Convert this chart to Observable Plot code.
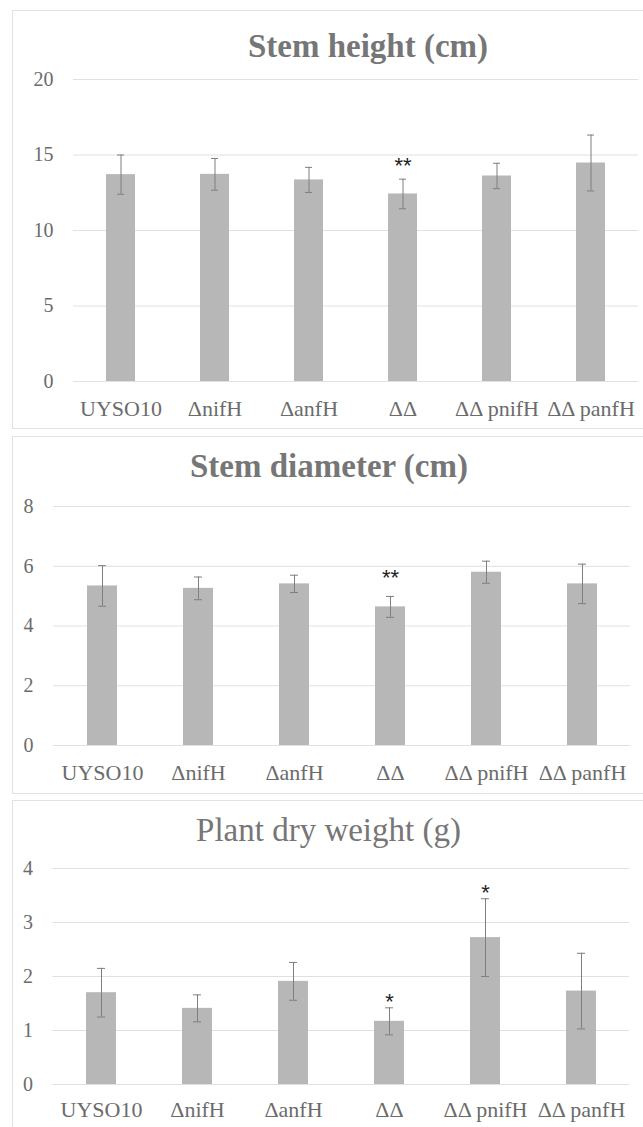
<!DOCTYPE html>
<html><head><meta charset="utf-8">
<script src="https://cdn.jsdelivr.net/npm/d3@7"></script>
<script src="https://cdn.jsdelivr.net/npm/@observablehq/plot@0.6"></script>
<style>
html,body{margin:0;padding:0;background:#fff;overflow:hidden}
body{width:643px;height:1127px;position:relative;font-family:"Liberation Serif",serif}
.frame{position:absolute;left:12px;width:720px;border:1px solid #e2e2e2;box-sizing:border-box}
.title{position:absolute;width:600px;text-align:center;color:#767676;font-family:"Liberation Serif",serif;line-height:1;white-space:nowrap}
.chart{position:absolute;left:0}
</style></head><body>
<script>
// ---- data ----
const strains = ["UYSO10", "\u0394nifH", "\u0394anfH", "\u0394\u0394", "\u0394\u0394 pnifH", "\u0394\u0394 panfH"];
const heightMean = [13.70, 13.72, 13.35, 12.42, 13.61, 14.47];
const heightErr  = [1.30, 1.05, 0.83, 0.98, 0.84, 1.85];
const heightSig  = ["", "", "", "**", "", ""];
const diameterMean = [5.34, 5.26, 5.41, 4.64, 5.80, 5.41];
const diameterErr  = [0.68, 0.38, 0.29, 0.35, 0.37, 0.66];
const diameterSig  = ["", "", "", "**", "", ""];
const weightMean = [1.70, 1.41, 1.91, 1.17, 2.72, 1.73];
const weightErr  = [0.45, 0.25, 0.35, 0.25, 0.72, 0.70];
const weightSig  = ["", "", "", "*", "*", ""];
const heightTicks = [0, 5, 10, 15, 20];
const diameterTicks = [0, 2, 4, 6, 8];
const weightTicks = [0, 1, 2, 3, 4];

const serif = "Liberation Serif, serif";
const sans = "Liberation Sans, sans-serif";
const panels = [
  {title: "Stem height (cm)", bold: true, titleSize: 33, titleTop: 30, titleCenter: 368,
   frameTop: 10, frameH: 419, top: 10, height: 418, mt: 69, mb: 47, ml: 73, mr: 5,
   mean: heightMean, err: heightErr, sig: heightSig, ticks: heightTicks, sigDy: -13, xPad: 19},
  {title: "Stem diameter (cm)", bold: true, titleSize: 33, titleTop: 450, titleCenter: 329,
   frameTop: 436, frameH: 358, top: 436, height: 357, mt: 70, mb: 48, ml: 53, mr: 13,
   mean: diameterMean, err: diameterErr, sig: diameterSig, ticks: diameterTicks, sigDy: -18, xPad: 19},
  {title: "Plant dry weight (g)", bold: false, titleSize: 33, titleTop: 814, titleCenter: 328.5,
   frameTop: 800, frameH: 400, top: 800, height: 327, mt: 68, mb: 43, ml: 52.5, mr: 14,
   mean: weightMean, err: weightErr, sig: weightSig, ticks: weightTicks, sigDy: -6, xPad: 17}
];

for (const p of panels) {
  const frame = document.createElement("div");
  frame.className = "frame";
  frame.style.top = p.frameTop + "px";
  frame.style.height = p.frameH + "px";
  document.body.appendChild(frame);

  const rows = strains.map((s, i) => ({strain: s, mean: p.mean[i], err: p.err[i], sig: p.sig[i]}));
  const ymax = p.ticks[p.ticks.length - 1];

  const chart = Plot.plot({
    width: 643,
    height: p.height,
    marginTop: p.mt, marginBottom: p.mb, marginLeft: p.ml, marginRight: p.mr,
    style: {background: "transparent", fontFamily: serif, overflow: "visible"},
    x: {domain: strains, paddingInner: 0.69, paddingOuter: 0.345, label: null},
    y: {domain: [0, ymax], label: null},
    marks: [
      Plot.gridY(p.ticks, {stroke: "#e0e0e0", strokeOpacity: 1, strokeWidth: 1}),
      Plot.barY(rows, {x: "strain", y: "mean", fill: "#b7b7b7"}),
      Plot.ruleX(rows, {x: "strain", y1: d => d.mean - d.err, y2: d => d.mean + d.err, stroke: "#7f7f7f", strokeWidth: 1}),
      Plot.tickY(rows, {x: "strain", y: d => d.mean + d.err, stroke: "#7f7f7f", strokeWidth: 1, insetLeft: 11, insetRight: 11}),
      Plot.tickY(rows, {x: "strain", y: d => d.mean - d.err, stroke: "#7f7f7f", strokeWidth: 1, insetLeft: 11, insetRight: 11}),
      Plot.text(rows.filter(d => d.sig), {x: "strain", y: d => d.mean + d.err, text: "sig", dy: p.sigDy,
        fontSize: 22, fill: "#222", fontFamily: sans}),
      Plot.axisY(p.ticks, {tickSize: 0, tickPadding: 20, fontSize: 20, fill: "#6b6b6b", fontFamily: serif,
        tickFormat: d3.format("d"), label: null}),
      Plot.axisX({tickSize: 0, tickPadding: p.xPad, fontSize: 22, fill: "#6b6b6b", fontFamily: serif, label: null})
    ]
  });
  chart.classList.add("chart");
  chart.style.top = p.top + "px";
  document.body.appendChild(chart);

  const t = document.createElement("div");
  t.className = "title";
  t.textContent = p.title;
  t.style.fontSize = p.titleSize + "px";
  t.style.fontWeight = p.bold ? "bold" : "normal";
  t.style.top = p.titleTop + "px";
  t.style.left = (p.titleCenter - 300) + "px";
  document.body.appendChild(t);
}
</script>
</body></html>
